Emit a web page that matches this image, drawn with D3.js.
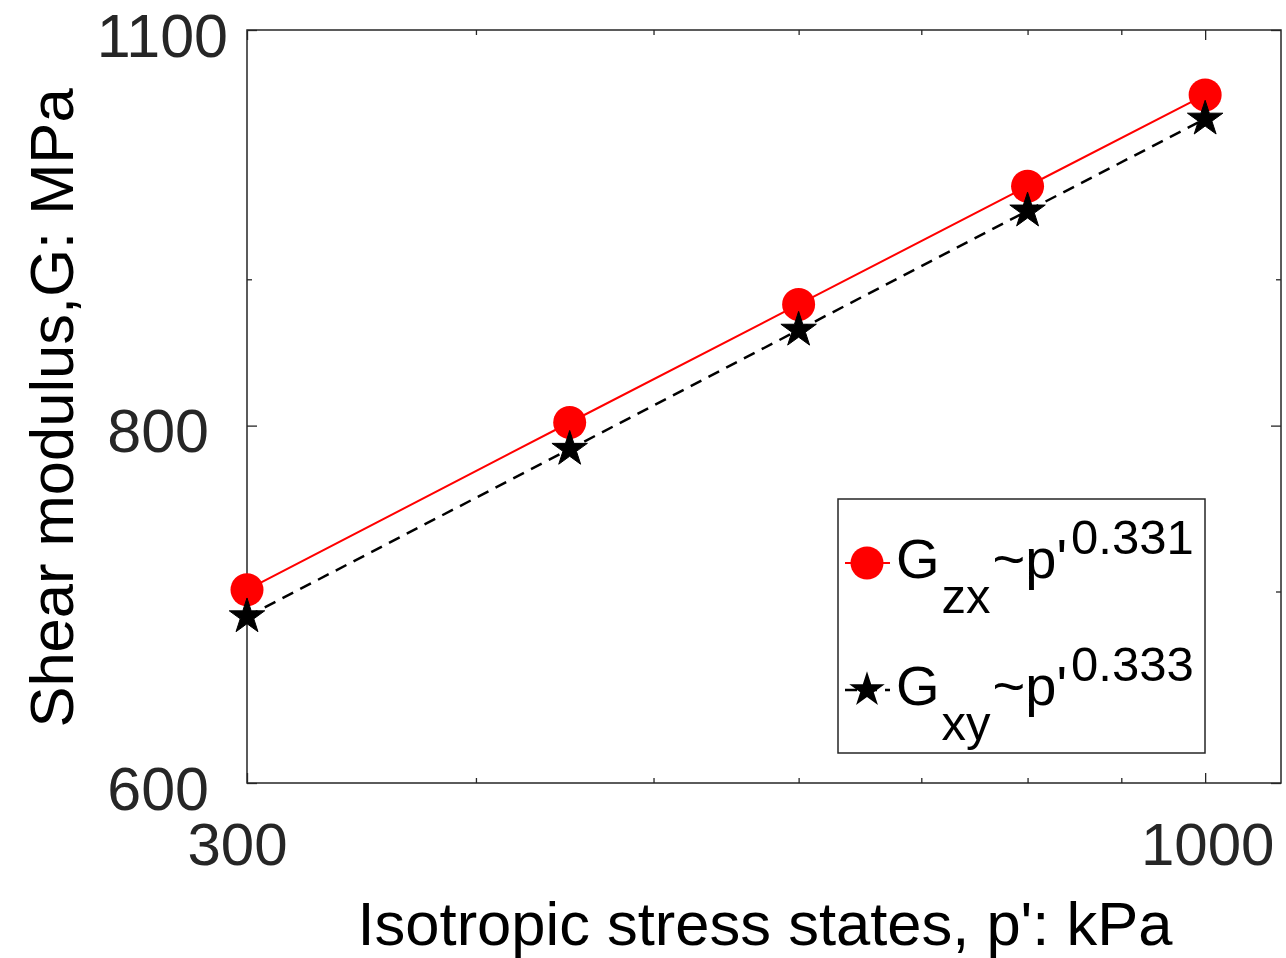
<!DOCTYPE html>
<html>
<head>
<meta charset="utf-8">
<script src="https://cdn.jsdelivr.net/npm/d3@7"></script>
<style>
  html, body { margin: 0; padding: 0; background: #fff; }
  svg { display: block; font-family: Arial, "Liberation Sans", Helvetica, sans-serif; }
</style>
</head>
<body>
<svg id="chart" width="1286" height="958"></svg>
<script>
// Mean effective stress p' (kPa) and shear moduli (MPa)
const pressure = [300, 450, 600, 800, 1000];
const gZX = [701, 802, 882, 970, 1044];
const gXY = [686, 785, 864, 951, 1024];

const xMajorTicks = [300, 1000];
const xMinorTicks = [400, 500, 600, 700, 800, 900];
const yMajorTicks = [600, 800, 1100];
const yMinorTicks = [700, 900];

const xDomain = [300, 1100];
const yDomain = [600, 1100];

const seriesLabels = [
  { base: "G", sub: "zx", mid: "~p'", sup: "0.331" },
  { base: "G", sub: "xy", mid: "~p'", sup: "0.333" }
];

const xTitle = "Isotropic stress states, p': kPa";
const yTitle = "Shear modulus,G: MPa";

const W = 1286, H = 958;
const plot = { left: 247, right: 1281, top: 30, bottom: 783 };
const axisColor = "#262626";

const svg = d3.select("#chart");
svg.append("rect").attr("width", W).attr("height", H).attr("fill", "#fff");

const x = d3.scaleLog().domain(xDomain).range([plot.left, plot.right]);
const y = d3.scaleLog().domain(yDomain).range([plot.bottom, plot.top]);

const majorLen = 10, minorLen = 5;

function styleAxis(g) {
  g.select(".domain").remove();
  g.selectAll(".tick line").attr("stroke", axisColor).attr("stroke-width", 1.3);
}

// Ticks on all four sides, pointing inward
const axes = svg.append("g").attr("class", "axes");

axes.append("g").attr("transform", `translate(0,${plot.bottom})`)
  .call(d3.axisBottom(x).tickValues(xMinorTicks).tickSize(-minorLen).tickFormat(""))
  .call(styleAxis);
axes.append("g").attr("transform", `translate(0,${plot.top})`)
  .call(d3.axisTop(x).tickValues(xMinorTicks).tickSize(-minorLen).tickFormat(""))
  .call(styleAxis);
axes.append("g").attr("transform", `translate(0,${plot.top})`)
  .call(d3.axisTop(x).tickValues(xMajorTicks).tickSize(-majorLen).tickFormat(""))
  .call(styleAxis);
const xBottom = axes.append("g").attr("transform", `translate(0,${plot.bottom})`)
  .call(d3.axisBottom(x).tickValues(xMajorTicks).tickSize(-majorLen).tickFormat(d3.format("d")))
  .call(styleAxis);
xBottom.selectAll(".tick text")
  .attr("y", 82).attr("dy", 0)
  .attr("dx", d => d === xDomain[0] ? -10 : 2)
  .attr("fill", axisColor).attr("font-size", 60)
  .attr("font-family", "Arial, 'Liberation Sans', sans-serif");

axes.append("g").attr("transform", `translate(${plot.left},0)`)
  .call(d3.axisLeft(y).tickValues(yMinorTicks).tickSize(-minorLen).tickFormat(""))
  .call(styleAxis);
axes.append("g").attr("transform", `translate(${plot.right},0)`)
  .call(d3.axisRight(y).tickValues(yMinorTicks).tickSize(-minorLen).tickFormat(""))
  .call(styleAxis);
axes.append("g").attr("transform", `translate(${plot.right},0)`)
  .call(d3.axisRight(y).tickValues(yMajorTicks).tickSize(-majorLen).tickFormat(""))
  .call(styleAxis);
const yLeft = axes.append("g").attr("transform", `translate(${plot.left},0)`)
  .call(d3.axisLeft(y).tickValues(yMajorTicks).tickSize(-majorLen).tickFormat(d3.format("d")))
  .call(styleAxis);
yLeft.selectAll(".tick text")
  .attr("x", d => d === yDomain[1] ? -19 : -38)
  .attr("dy", 0).attr("y", 26)
  .attr("fill", axisColor).attr("font-size", 61)
  .attr("font-family", "Arial, 'Liberation Sans', sans-serif");

// Axes box
svg.append("rect")
  .attr("x", plot.left).attr("y", plot.top)
  .attr("width", plot.right - plot.left).attr("height", plot.bottom - plot.top)
  .attr("fill", "none").attr("stroke", axisColor).attr("stroke-width", 1.5);

// Series
const series = [
  { values: gZX, color: "#ff0000", dash: null, width: 2, marker: "circle" },
  { values: gXY, color: "#000000", dash: "12,8", width: 2.5, marker: "star" }
];

const line = d3.line().x(d => x(d[0])).y(d => y(d[1]));
const starPath = d3.symbol(d3.symbolStar, 390)();

series.forEach(s => {
  const pts = pressure.map((p, i) => [p, s.values[i]]);
  svg.append("path")
    .datum(pts)
    .attr("d", line)
    .attr("fill", "none")
    .attr("stroke", s.color)
    .attr("stroke-width", s.width)
    .attr("stroke-dasharray", s.dash);
  const mk = svg.append("g").selectAll("g").data(pts).join("g")
    .attr("transform", d => `translate(${x(d[0])},${y(d[1])})`);
  if (s.marker === "circle") {
    mk.append("circle").attr("r", 16.5).attr("fill", s.color);
  } else {
    mk.append("path").attr("d", starPath).attr("fill", s.color)
      .attr("stroke", s.color).attr("stroke-width", 1).attr("stroke-linejoin", "miter");
  }
});

// Legend
const legend = svg.append("g");
const lg = { x: 838, y: 499, w: 367, h: 254 };
legend.append("rect")
  .attr("x", lg.x).attr("y", lg.y).attr("width", lg.w).attr("height", lg.h)
  .attr("fill", "#fff").attr("stroke", axisColor).attr("stroke-width", 1.5);

const rowY = [563, 690];
series.forEach((s, i) => {
  const cy = rowY[i];
  legend.append("line")
    .attr("x1", lg.x + 7).attr("x2", lg.x + 52)
    .attr("y1", cy).attr("y2", cy)
    .attr("stroke", s.color).attr("stroke-width", s.width)
    .attr("stroke-dasharray", s.dash);
  const g = legend.append("g").attr("transform", `translate(${lg.x + 29},${cy})`);
  if (s.marker === "circle") g.append("circle").attr("r", 16.5).attr("fill", s.color);
  else g.append("path").attr("d", starPath).attr("fill", s.color);

  const lab = seriesLabels[i];
  const t = legend.append("text")
    .attr("x", lg.x + 58).attr("y", cy + 15)
    .attr("font-size", 56).attr("fill", "#000");
  t.append("tspan").text(lab.base);
  t.append("tspan").attr("font-size", 49).attr("dx", 2).attr("dy", 35).text(lab.sub);
  t.append("tspan").attr("font-size", 56).attr("dx", 2).attr("dy", -35).text(lab.mid);
  t.append("tspan").attr("font-size", 49).attr("dx", 4).attr("dy", -24).text(lab.sup);
});

// Axis titles
svg.append("text")
  .attr("x", 765).attr("y", 945)
  .attr("text-anchor", "middle")
  .attr("font-size", 61.5).attr("fill", "#000")
  .text(xTitle);

svg.append("text")
  .attr("transform", "translate(73,408) rotate(-90)")
  .attr("text-anchor", "middle")
  .attr("font-size", 61.5).attr("fill", "#000")
  .text(yTitle);
</script>
</body>
</html>
